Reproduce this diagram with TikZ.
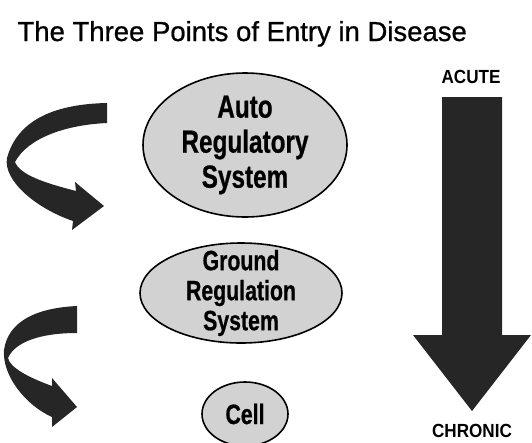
\documentclass[tikz,border=0pt]{standalone}
\usepackage{fontspec}
\setmainfont{Liberation Sans}
\newfontfamily\titlefont[FakeBold=0.8]{Liberation Sans}
\newfontfamily\narrowfont[FakeStretch=0.76,FakeBold=0.6]{Liberation Sans}
\newfontfamily\endfont[FakeStretch=0.9]{Liberation Sans}
\usetikzlibrary{shapes}
\usetikzlibrary{positioning}

\tikzset{
  sysbox/.style={ellipse, draw, line width=1.6pt, fill=gray!35, align=center, inner sep=-15pt},
  flow/.style={fill=black!85},
  endlabel/.style={font=\endfont\bfseries\fontsize{19}{19}\selectfont}
}

\begin{document}
\begin{tikzpicture}[x=1pt,y=-1pt]
\useasboundingbox (0,0) rectangle (532,442);
\node[anchor=base west, font=\titlefont\fontsize{27.5}{30}\selectfont] (title) at (14,41) {The Three Points of Entry in Disease};
% the three systems
\node[sysbox, minimum width=204pt, minimum height=144pt, font=\narrowfont\bfseries\fontsize{32}{35}\selectfont] (auto) at (245,145) {Auto\\Regulatory\\System};
\node[sysbox, minimum width=202pt, minimum height=100pt, font=\narrowfont\bfseries\fontsize{28}{30}\selectfont] (ground) at (241,293) {Ground\\Regulation\\System};
\node[sysbox, minimum width=86pt, minimum height=64pt, font=\narrowfont\bfseries\fontsize{28}{30}\selectfont] (cell) at (245,414) {Cell};
% curved arrows on the left
\fill[flow] (107,103) .. controls (58,104) and (18,118) .. (7,158)
  .. controls (3,180) and (35,208) .. (73,221) -- (72,230) -- (104,206) -- (75,182) -- (76,191)
  .. controls (45,183) and (20,175) .. (15,162)
  .. controls (28,138) and (65,125) .. (107,123) -- cycle;
\fill[flow] (77,306) .. controls (35,308) and (8,322) .. (4,350)
  .. controls (2,375) and (25,405) .. (52,417) -- (52,427) -- (77,407) -- (52,378) -- (52,386)
  .. controls (30,378) and (10,368) .. (8,358)
  .. controls (15,342) and (40,333) .. (77,333) -- cycle;
% acute to chronic
\fill[flow] (442,97) -- (502,97) -- (502,335) -- (531,335) -- (472,411) -- (413,335) -- (442,335) -- cycle;
\node[endlabel, anchor=base] (acute) at (471,83) {ACUTE};
\node[endlabel, anchor=base] (chronic) at (472,437) {CHRONIC};
\end{tikzpicture}
\end{document}
